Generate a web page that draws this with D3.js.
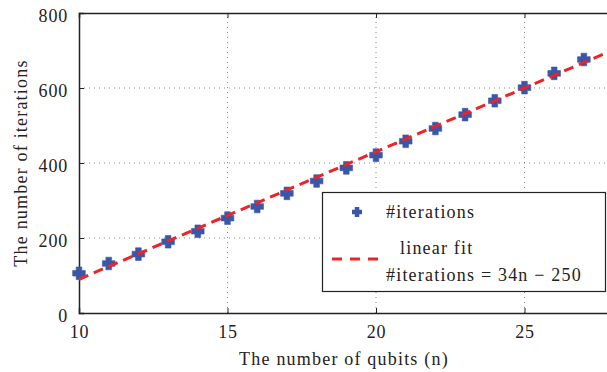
<!DOCTYPE html>
<html>
<head>
<meta charset="utf-8">
<script src="https://cdn.jsdelivr.net/npm/d3@7"></script>
<style>
  body { margin: 0; background: #fff; }
  text { font-family: "Liberation Serif", "DejaVu Serif", serif; fill: #222; }
</style>
</head>
<body>
<div id="chart"></div>
<script>
// data
var qubits = [10, 11, 12, 13, 14, 15, 16, 17, 18, 19, 20, 21, 22, 23, 24, 25, 26, 27];
var iterations = [106, 132, 157, 190, 218, 253, 284, 319, 352, 387, 421, 458, 492, 529, 566, 601, 639, 676];
var fitSlope = 34;
var fitIntercept = -250;
var xTicks = [10, 15, 20, 25];
var yTicks = [0, 200, 400, 600, 800];

var svgWidth = 607;
var svgHeight = 372;
var margin = { top: 13, left: 79, bottom: 59 };
var height = svgHeight - margin.top - margin.bottom;
var fontSize = "18px";
var spacing = "1.2px";

var svg = d3.select("#chart")
  .append("svg")
  .attr("width", svgWidth)
  .attr("height", svgHeight);

// x axis runs to 28, the right part is cut off by the picture edge
var x = d3.scaleLinear().domain([10, 28]).range([margin.left, margin.left + 18 * 29.7]);
var y = d3.scaleLinear().domain([0, 800]).range([margin.top + height, margin.top]);

svg.append("clipPath").attr("id", "plotClip")
  .append("rect")
  .attr("x", margin.left).attr("y", margin.top)
  .attr("width", svgWidth - margin.left).attr("height", height);

// grid
svg.append("g").selectAll("line")
  .data(xTicks.slice(1))
  .enter().append("line")
  .attr("x1", d => x(d)).attr("x2", d => x(d))
  .attr("y1", y(0)).attr("y2", y(800))
  .attr("stroke", "#888").attr("stroke-dasharray", "1,4");

svg.append("g").selectAll("line")
  .data(yTicks.slice(1, -1))
  .enter().append("line")
  .attr("x1", x(10)).attr("x2", svgWidth)
  .attr("y1", d => y(d)).attr("y2", d => y(d))
  .attr("stroke", "#888").attr("stroke-dasharray", "1,4");

// axes
var bottomAxis = d3.axisBottom(x).tickValues(xTicks).tickSize(-5).tickPadding(12);
var leftAxis = d3.axisLeft(y).tickValues(yTicks).tickSize(-5).tickPadding(11);
var topAxis = d3.axisTop(x).tickValues(xTicks).tickSize(-5).tickFormat("");

var gx = svg.append("g").attr("transform", `translate(0, ${y(0)})`).call(bottomAxis);
var gy = svg.append("g").attr("transform", `translate(${x(10)}, 0)`).call(leftAxis);
var gt = svg.append("g").attr("transform", `translate(0, ${y(800)})`).call(topAxis);

[gx, gy, gt].forEach(function(g) {
  g.select(".domain").attr("stroke", "#222").attr("stroke-width", 1.5);
  g.selectAll(".tick line").attr("stroke", "#222");
  g.selectAll(".tick text")
    .style("font-family", "'Liberation Serif', serif")
    .style("font-size", fontSize)
    .style("letter-spacing", "0.8px")
    .attr("fill", "#222");
});
gy.selectAll(".tick text").attr("dy", "0.45em");

// chunky plus marker, size = (full width)^2
var plusType = {
  draw: function(ctx, size) {
    var l = Math.sqrt(size) / 2, w = l * 0.45;
    ctx.moveTo(-l, -w);
    ctx.lineTo(-w, -w);
    ctx.lineTo(-w, -l);
    ctx.lineTo(w, -l);
    ctx.lineTo(w, -w);
    ctx.lineTo(l, -w);
    ctx.lineTo(l, w);
    ctx.lineTo(w, w);
    ctx.lineTo(w, l);
    ctx.lineTo(-w, l);
    ctx.lineTo(-w, w);
    ctx.lineTo(-l, w);
    ctx.closePath();
  }
};
var cross = d3.symbol().type(plusType).size(160);

svg.append("g").selectAll("path")
  .data(qubits)
  .enter().append("path")
  .attr("d", cross)
  .attr("transform", (d, i) => `translate(${x(d)}, ${y(iterations[i])})`)
  .attr("fill", "#3a57a7")
  .attr("stroke", "#3a57a7").attr("stroke-width", 0.6)
  .attr("stroke-linejoin", "round");

// fit line, drawn over the markers
var fit = d3.line()
  .x(d => x(d))
  .y(d => y(fitSlope * d + fitIntercept));

svg.append("path")
  .datum([10, 28])
  .attr("clip-path", "url(#plotClip)")
  .attr("d", fit)
  .attr("fill", "none")
  .attr("stroke", "#ee2227")
  .attr("stroke-width", 3)
  .attr("stroke-dasharray", "10,6");

// axis labels
svg.append("text")
  .attr("x", 344)
  .attr("y", 365)
  .attr("text-anchor", "middle")
  .style("font-size", fontSize)
  .style("letter-spacing", spacing)
  .text("The number of qubits (n)");

svg.append("text")
  .attr("transform", `translate(27, ${y(400)}) rotate(-90)`)
  .attr("text-anchor", "middle")
  .style("font-size", fontSize)
  .style("letter-spacing", spacing)
  .text("The number of iterations");

// legend
var legend = svg.append("g");
legend.append("rect")
  .attr("x", 322.5).attr("y", 192.5)
  .attr("width", 283).attr("height", 99)
  .attr("fill", "#fff")
  .attr("stroke", "#222").attr("stroke-width", 1.2);

legend.append("path")
  .attr("d", d3.symbol().type(plusType).size(100))
  .attr("transform", "translate(357, 212)")
  .attr("fill", "#3a57a7");

legend.append("text").attr("x", 386).attr("y", 218)
  .style("font-size", fontSize).style("letter-spacing", spacing)
  .text("#iterations");

legend.append("line")
  .attr("x1", 332).attr("x2", 378)
  .attr("y1", 259).attr("y2", 259)
  .attr("stroke", "#ee2227").attr("stroke-width", 3)
  .attr("stroke-dasharray", "10,8");

legend.append("text").attr("x", 400).attr("y", 254)
  .style("font-size", fontSize).style("letter-spacing", spacing)
  .text("linear fit");

legend.append("text").attr("x", 386).attr("y", 281)
  .style("font-size", fontSize).style("letter-spacing", spacing)
  .text("#iterations = 34n \u2212 250");
</script>
</body>
</html>
